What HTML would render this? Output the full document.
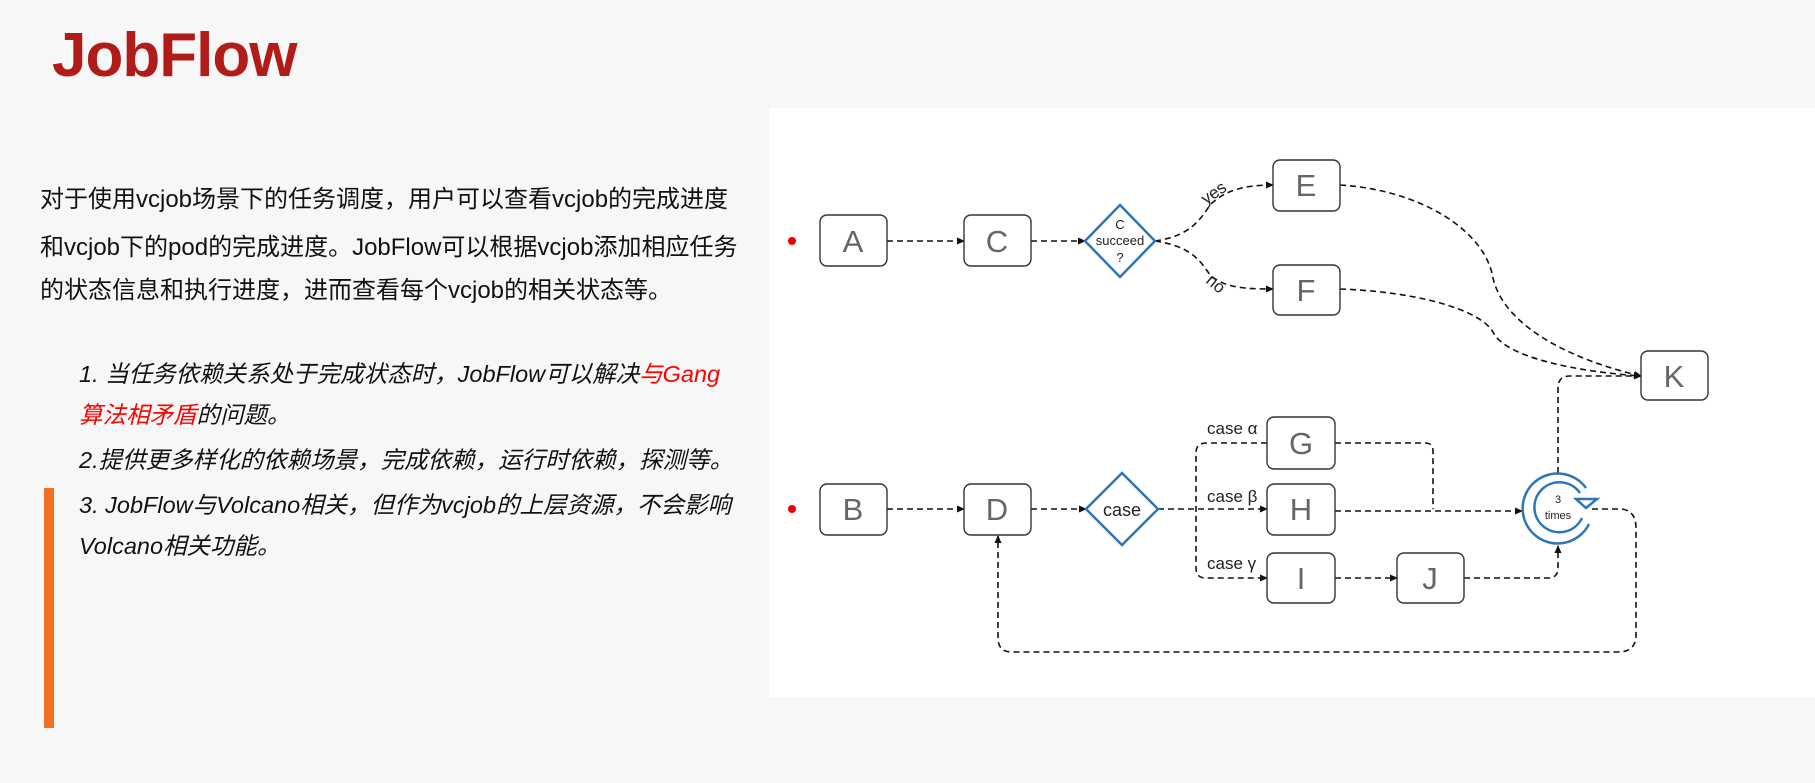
<!DOCTYPE html>
<html><head><meta charset="utf-8"><style>
body{margin:0;width:1815px;height:783px;background:#f7f7f7;position:relative;overflow:hidden;font-family:"Liberation Sans","Noto Sans CJK SC",sans-serif;}
.t{position:absolute;left:52px;top:20px;font-size:62px;font-weight:bold;color:#b01c18;letter-spacing:-1px;}
.p{position:absolute;left:40px;font-size:24px;color:#111;white-space:nowrap;}
.i{position:absolute;left:79px;font-size:23.5px;color:#111;white-space:nowrap;font-style:italic;}
.r{color:#f00}
.bar{position:absolute;left:44px;top:488px;width:10px;height:240px;background:#f36f21;}
.panel{position:absolute;left:769px;top:108px;width:1046px;height:589px;background:#fff;}
svg{position:absolute;left:0;top:0}
</style></head><body>
<div class="t">JobFlow</div>
<div class="p" style="top:179px">对于使用vcjob场景下的任务调度，用户可以查看vcjob的完成进度</div>
<div class="p" style="top:227px">和vcjob下的pod的完成进度。JobFlow可以根据vcjob添加相应任务</div>
<div class="p" style="top:270px">的状态信息和执行进度，进而查看每个vcjob的相关状态等。</div>
<div class="i" style="top:355px">1. 当任务依赖关系处于完成状态时，JobFlow可以解决<span class="r">与Gang</span></div>
<div class="i" style="top:396px"><span class="r">算法相矛盾</span>的问题。</div>
<div class="i" style="top:441px">2.提供更多样化的依赖场景，完成依赖，运行时依赖，探测等。</div>
<div class="i" style="top:486px">3. JobFlow与Volcano相关，但作为vcjob的上层资源，不会影响</div>
<div class="i" style="top:527px">Volcano相关功能。</div>
<div class="bar"></div>
<div class="panel"></div>
<svg width="1815" height="783" viewBox="0 0 1815 783">
<defs><marker id="a" markerWidth="8" markerHeight="8" refX="7" refY="4" orient="auto" markerUnits="userSpaceOnUse"><path d="M0,0.5 L8,4 L0,7.5z" fill="#111"/></marker></defs>
<g fill="none" stroke="#111" stroke-width="1.6" stroke-dasharray="6,4">
<path d="M887,241 H964" marker-end="url(#a)"/>
<path d="M1031,241 H1085" marker-end="url(#a)"/>
<path d="M1155,241 C1190,236 1200,220 1210,205 C1225,190 1245,185 1273,185" marker-end="url(#a)"/>
<path d="M1155,241 C1190,246 1200,260 1210,275 C1225,288 1245,289 1273,289" marker-end="url(#a)"/>
<path d="M1340,185 C1420,190 1485,230 1493,278 C1505,330 1580,362 1641,376" marker-end="url(#a)"/>
<path d="M1340,289 C1420,292 1480,310 1493,332 C1505,358 1580,372 1641,376" marker-end="url(#a)"/>
<path d="M887,509 H964" marker-end="url(#a)"/>
<path d="M1031,509 H1086" marker-end="url(#a)"/>
<path d="M1158,509 H1267" marker-end="url(#a)"/>
<path d="M1267,443 H1206 Q1196,443 1196,453 V568 Q1196,578 1206,578 H1267" marker-end="url(#a)"/>
<path d="M1335,578 H1397" marker-end="url(#a)"/>
<path d="M1335,443 H1425 Q1433,443 1433,451 V509"/>
<path d="M1335,511 H1522" marker-end="url(#a)"/>
<path d="M1464,578 H1548 Q1558,578 1558,568 V546" marker-end="url(#a)"/>
<path d="M1558,473 V388 Q1558,376 1570,376 H1641" marker-end="url(#a)"/>
<path d="M1592,509 H1622 Q1636,511 1636,528 V635 Q1636,652 1618,652 H1012 Q998,652 998,638 V536" marker-end="url(#a)"/>
</g>
<g fill="#fff" stroke="#333" stroke-width="1.4">
<rect x="820" y="215" width="67" height="51" rx="7"/><rect x="964" y="215" width="67" height="51" rx="7"/>
<rect x="1273" y="160" width="67" height="51" rx="7"/><rect x="1273" y="265" width="67" height="50" rx="7"/>
<rect x="820" y="484" width="67" height="51" rx="7"/><rect x="964" y="484" width="67" height="51" rx="7"/>
<rect x="1267" y="417" width="68" height="52" rx="7"/><rect x="1267" y="484" width="68" height="51" rx="7"/><rect x="1267" y="553" width="68" height="50" rx="7"/>
<rect x="1397" y="553" width="67" height="50" rx="7"/><rect x="1641" y="351" width="67" height="49" rx="7"/>
</g>
<g fill="#fff" stroke="#2e75b6" stroke-width="2.5">
<path d="M1120,205 L1155,241 L1120,277 L1085,241z"/>
<path d="M1122,473 L1158,509 L1122,545 L1086,509z"/>
</g>
<g fill="none" stroke="#2e75b6" stroke-width="2.5">
<path d="M1586,488 A35,35 0 1 0 1589,524"/>
<path d="M1580,493 A25,25 0 1 0 1582,518"/>
<path d="M1576,499 L1597,499 L1586,508 z" fill="#fff"/>
</g>
<circle cx="792" cy="241" r="4" fill="#e00"/><circle cx="792" cy="509" r="4" fill="#e00"/>
<g font-family="Liberation Sans,sans-serif" font-size="31" fill="#666" text-anchor="middle">
<text x="853" y="252">A</text><text x="997" y="252">C</text><text x="1306" y="196">E</text><text x="1306" y="301">F</text>
<text x="853" y="520">B</text><text x="997" y="520">D</text><text x="1301" y="454">G</text><text x="1301" y="520">H</text><text x="1301" y="589">I</text><text x="1430" y="589">J</text><text x="1674" y="387">K</text>
</g>
<g font-family="Liberation Sans,sans-serif" fill="#222" text-anchor="middle">
<text x="1120" y="229" font-size="13">C</text><text x="1120" y="245" font-size="13">succeed</text><text x="1120" y="262" font-size="13">?</text>
<text x="1122" y="516" font-size="18">case</text>
<text x="1558" y="503" font-size="11">3</text><text x="1558" y="519" font-size="11">times</text>
</g>
<g font-family="Liberation Sans,sans-serif" font-size="17" fill="#222">
<text x="1207" y="434">case α</text><text x="1207" y="502">case β</text><text x="1207" y="569">case γ</text>
<text x="1206" y="205" transform="rotate(-35 1206 205)">yes</text>
<text x="1205" y="282" transform="rotate(40 1205 282)">no</text>
</g>
</svg>
</body></html>
